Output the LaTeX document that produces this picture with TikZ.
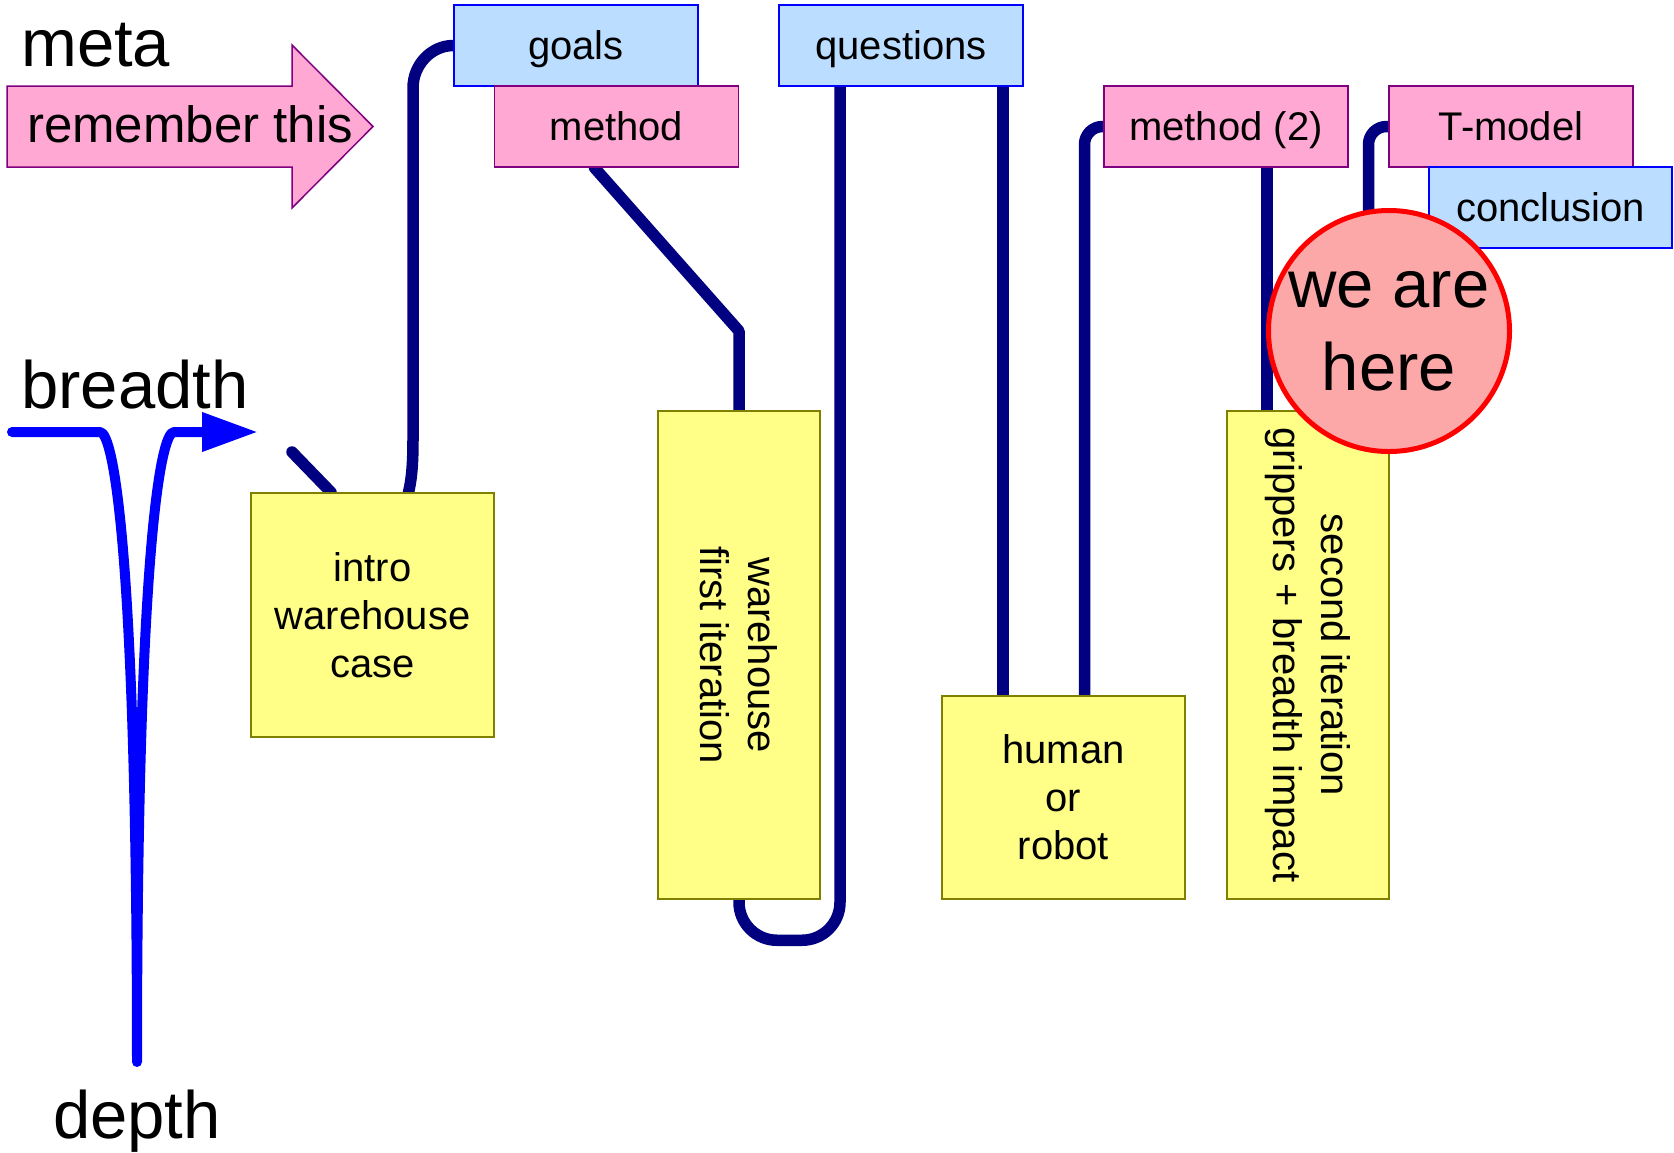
\documentclass[tikz,border=0pt]{standalone}
\usepackage{fontspec}
\setmainfont{Liberation Sans}
\usetikzlibrary{arrows.meta,calc}
\pgfdeclarelayer{background}
\pgfsetlayers{background,main}

\definecolor{navyline}{RGB}{0,0,128}
\definecolor{pinkfill}{RGB}{255,168,212}
\definecolor{pinkedge}{RGB}{128,0,128}
\definecolor{bluefill}{RGB}{187,221,255}
\definecolor{blueedge}{RGB}{0,0,255}
\definecolor{yellowfill}{RGB}{255,255,136}
\definecolor{yellowedge}{RGB}{128,128,0}
\definecolor{herefill}{RGB}{252,168,168}
\definecolor{hereedge}{RGB}{255,0,0}

\tikzset{
  box/.style={draw, line width=1.5pt, inner sep=0pt, align=center,
    font=\fontsize{40}{48}\selectfont},
  pinkbox/.style={box, fill=pinkfill, draw=pinkedge},
  bluebox/.style={box, fill=bluefill, draw=blueedge},
  yellowbox/.style={box, fill=yellowfill, draw=yellowedge},
  smallbox/.style={minimum width=244pt, minimum height=81pt,
    text height=27pt, text depth=0pt},
  tallbox/.style={rotate=-90, minimum width=488pt, minimum height=162pt},
  trunk/.style={draw=navyline, line width=11.5pt, line cap=round, line join=round},
  biglabel/.style={font=\fontsize{67}{80}\selectfont, inner sep=0pt},
}

\begin{document}
\begin{tikzpicture}[x=1pt,y=-1pt]
\useasboundingbox (0,0) rectangle (1674,1152);

% top row of topic boxes
\node[bluebox, smallbox] (goals) at (576,45.5) {goals};
\node[pinkbox, smallbox] (method) at (616.5,126.5) {method};
\node[bluebox, smallbox] (questions) at (901,45.5) {questions};
\node[pinkbox, smallbox] (method2) at (1226,126.5) {method (2)};
\node[pinkbox, smallbox] (tmodel) at (1511,126.5) {T-model};
\node[bluebox, smallbox, minimum width=243pt] (conclusion) at (1550.5,207.5) {conclusion};

% case boxes
\node[yellowbox, minimum width=243pt, minimum height=244pt] (intro) at (372.5,615) {intro\\warehouse\\case};
\node[yellowbox, tallbox] (wh) at (739,655) {warehouse\\first iteration};
\node[yellowbox, minimum width=243pt, minimum height=203pt] (human) at (1063.5,797.5) {human\\or\\robot};
\node[yellowbox, tallbox] (second) at (1308,655) {second iteration\\grippers + breadth impact};

% the thread running through the talk
\begin{pgfonlayer}{background}
\fill[white] (0,0) rectangle (1674,1152);
\coordinate (stub) at (292,452);
\draw[trunk] (stub) -- ($(intro.north)+(-41.5,0)$);
\draw[trunk] (goals.west) .. controls (432,45.5) and (413,64) .. (413,88)
  -- (413,440) .. controls (413,468) and (411,482) .. ($(intro.north)+(36,0)$);
\draw[trunk] ($(method.south)+(-22,0)$) -- (739,331) -- (wh.west);
\draw[trunk, rounded corners=38pt] ($(questions.south)+(-61,0)$) -- ++(0,853.5) -| (wh.east);
\draw[trunk] ($(questions.south)+(102,0)$) -- ($(human.north)+(-60.5,0)$);
\draw[trunk, rounded corners=18pt] (method2.west) -| ($(human.north)+(21,0)$);
\draw[trunk] ($(method2.south)+(41,0)$) -- ($(second.west)+(-41,0)$);
\draw[trunk, rounded corners=18pt] (tmodel.west) -| ($(second.west)+(60.5,0)$);
\end{pgfonlayer}

% position marker
\node[circle, draw=hereedge, fill=herefill, line width=5pt, minimum size=241pt,
  inner sep=0pt, align=center, font=\fontsize{67}{83}\selectfont] (here) at (1389,331) {we are\\here};

% meta arrow
\draw[fill=pinkfill, draw=pinkedge, line width=1.5pt]
  (7,86) -- (292,86) -- (292,45) -- (373,126.5) -- (292,208) -- (292,167) -- (7,167) -- cycle;
\node[font=\fontsize{51}{60}\selectfont, anchor=base, inner sep=0pt] (remember) at (190,142) {remember this};

% axis labels
\node[biglabel, anchor=base west] (meta) at (21,66) {meta};
\node[biglabel, anchor=base west] (breadth) at (21,408) {breadth};
\node[biglabel, anchor=base] (depth) at (137,1138) {depth};

% breadth / depth stroke
\draw[draw=blue, line width=10pt, line cap=round, line join=round,
  -{Triangle[length=56pt,width=37pt]}]
  (12,432) -- (100,432) .. controls (114,432) and (137,560) .. (137,1062)
  .. controls (137,560) and (160,432) .. (174,432) -- (258,432);
\end{tikzpicture}
\end{document}
